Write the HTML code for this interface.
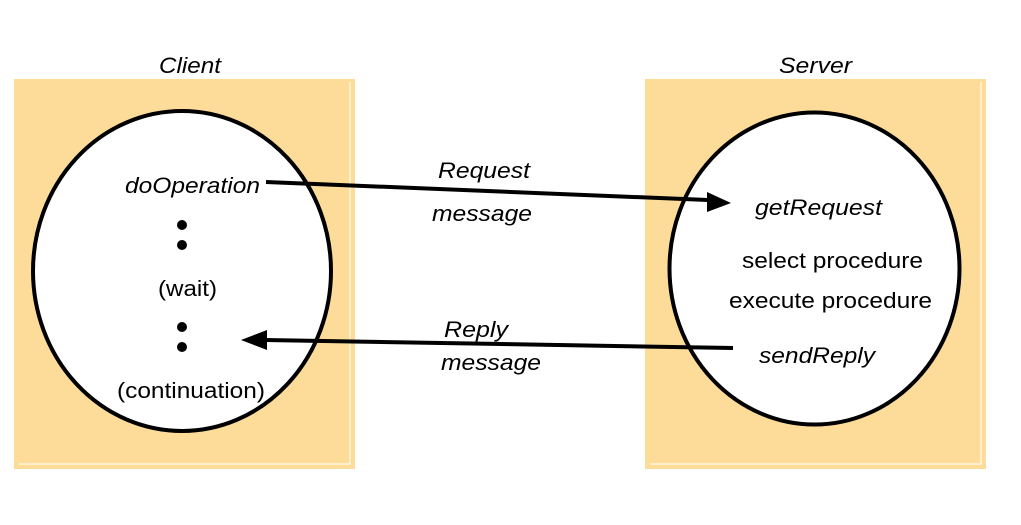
<!DOCTYPE html>
<html><head><meta charset="utf-8"><style>
html,body{margin:0;padding:0;background:#fff;}
svg{display:block;}
text{font-family:"Liberation Sans",Arial,sans-serif;font-size:22px;fill:#000;}
.i{font-style:italic;}
</style></head><body>
<svg width="1021" height="525" viewBox="0 0 1021 525" xmlns="http://www.w3.org/2000/svg">
<rect x="14" y="79" width="341" height="390" fill="#fddc9a"/>
<rect x="645" y="79" width="341" height="390" fill="#fddc9a"/>
<polyline points="350,82 350,464 19,464" fill="none" stroke="#fff" stroke-width="1"/>
<polyline points="981,82 981,464 650,464" fill="none" stroke="#fff" stroke-width="1"/>
<ellipse cx="182" cy="271" rx="149" ry="160" fill="#fff" stroke="#000" stroke-width="4"/>
<ellipse cx="814.5" cy="268.5" rx="145" ry="156" fill="#fff" stroke="#000" stroke-width="4"/>
<text class="i" x="159" y="73" textLength="62" lengthAdjust="spacingAndGlyphs">Client</text>
<text class="i" x="779" y="73" textLength="73" lengthAdjust="spacingAndGlyphs">Server</text>
<text class="i" x="125" y="193" textLength="135" lengthAdjust="spacingAndGlyphs">doOperation</text>
<circle cx="182" cy="225" r="5"/><circle cx="182" cy="245" r="5"/>
<text x="158" y="296" textLength="59" lengthAdjust="spacingAndGlyphs">(wait)</text>
<circle cx="182" cy="327" r="5"/><circle cx="182" cy="347" r="5"/>
<text x="117" y="398" textLength="148" lengthAdjust="spacingAndGlyphs">(continuation)</text>
<text class="i" x="438" y="178" textLength="92" lengthAdjust="spacingAndGlyphs">Request</text>
<text class="i" x="432" y="221" textLength="100" lengthAdjust="spacingAndGlyphs">message</text>
<text class="i" x="444" y="337" textLength="64" lengthAdjust="spacingAndGlyphs">Reply</text>
<text class="i" x="441" y="370" textLength="100" lengthAdjust="spacingAndGlyphs">message</text>
<text class="i" x="755" y="215" textLength="127" lengthAdjust="spacingAndGlyphs">getRequest</text>
<text x="742" y="268" textLength="181" lengthAdjust="spacingAndGlyphs">select procedure</text>
<text x="729" y="308" textLength="203" lengthAdjust="spacingAndGlyphs">execute procedure</text>
<text class="i" x="759" y="363" textLength="116" lengthAdjust="spacingAndGlyphs">sendReply</text>
<line x1="266" y1="182" x2="708" y2="200" stroke="#000" stroke-width="4"/>
<polygon points="731,203 707,192 707,212" fill="#000"/>
<line x1="733" y1="348" x2="265" y2="340" stroke="#000" stroke-width="4"/>
<polygon points="241,340 267,330 267,350" fill="#000"/>
</svg>
</body></html>
